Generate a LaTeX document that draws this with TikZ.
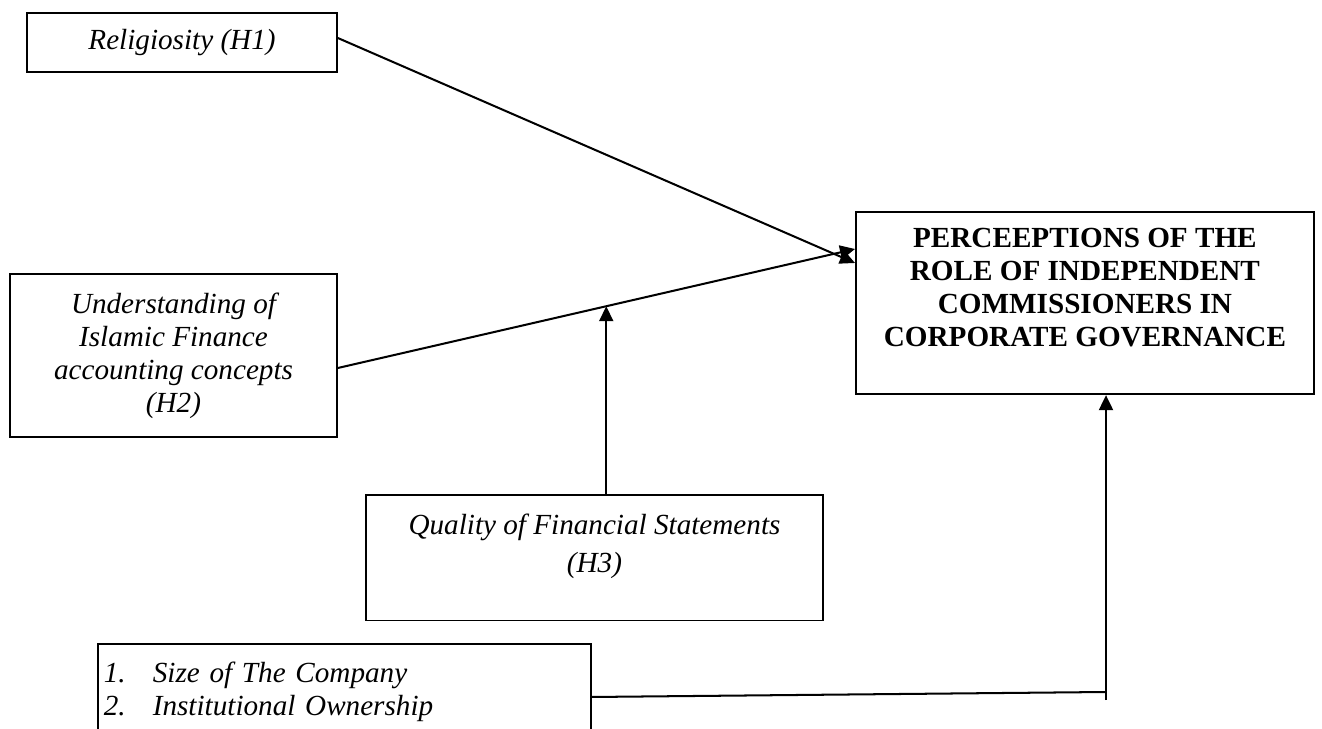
\documentclass[tikz,border=0pt]{standalone}
\usepackage{fontspec}
\setmainfont{Liberation Serif}
\usetikzlibrary{arrows.meta,calc}
\tikzset{
  varbox/.style={draw, line width=1pt, align=center, inner sep=0pt,
    font=\fontsize{16.6}{18.8}\selectfont\itshape},
  link/.style={line width=1.15pt},
  arr/.style={line width=1.15pt, -{Triangle[length=0.3cm,width=0.28cm]}},
}
\begin{document}
\begin{tikzpicture}[x=0.02cm,y=-0.02cm]
\useasboundingbox (0,0) rectangle (1322,729);
\clip (0,0) rectangle (1322,729);
% variables
\node[varbox, minimum width=6.2cm, minimum height=1.18cm] (rel) at (182,42.5) {Religiosity (H1)};
\node[varbox, minimum width=6.54cm, minimum height=3.26cm] (und) at (173.5,355.5)
  {Understanding of\\Islamic Finance\\accounting concepts\\(H2)};
\node[varbox, anchor=north, minimum width=9.14cm, inner ysep=0.38cm, text depth=0.58cm] (qual) at (594.5,494)
  {Quality of Financial Statements\\[0.1cm](H3)};
\node[varbox, anchor=north west, inner xsep=0.56cm, inner ysep=0.32cm, text depth=0.64cm,
  font=\fontsize{16.6}{18.8}\selectfont\bfseries] (perc) at (855,211)
  {PERCEEPTIONS OF THE\\ROLE OF INDEPENDENT\\COMMISSIONERS IN\\CORPORATE GOVERNANCE};
\node[varbox, anchor=north west, align=left, text width=9.62cm, inner xsep=0.12cm, inner ysep=0.36cm,
  text depth=2cm] (bot) at (97,643)
  {\makebox[0.98cm][l]{1.}Size of The Company\\\makebox[0.98cm][l]{2.}Institutional Ownership};
% arrows into the box
\coordinate (hitA) at ([yshift=-1.04cm]perc.north west);
\coordinate (hitB) at ([yshift=-0.76cm]perc.north west);
\draw[arr] ([yshift=0.09cm]rel.east) -- (hitA);
\draw[arr] ([yshift=-0.25cm]und.east) -- (hitB);
\path ([yshift=-0.25cm]und.east) -- (hitB) coordinate[pos=0.519] (mid);
\draw[arr] (qual.north -| mid) -- (mid);
\coordinate (turn) at (1106,692);
\draw[link] ([yshift=-1.08cm]bot.north east) -- (turn);
\draw[arr] ([yshift=-0.16cm]turn) -- (turn |- perc.south);
\end{tikzpicture}
\end{document}
